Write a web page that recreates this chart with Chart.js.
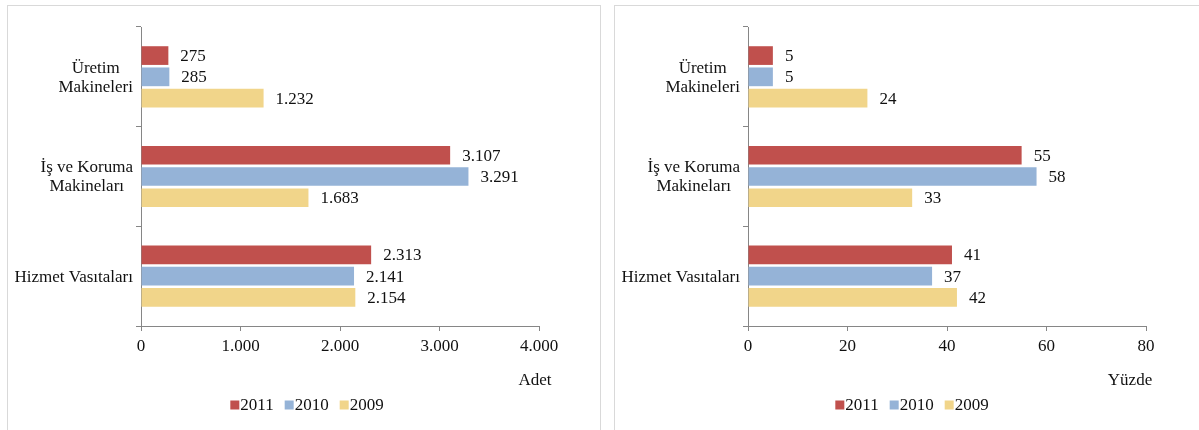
<!DOCTYPE html>
<html><head><meta charset="utf-8">
<script src="https://cdn.jsdelivr.net/npm/chart.js@4.4.0/dist/chart.umd.min.js"></script>
<style>
html,body{margin:0;padding:0;background:#fff;width:1199px;height:430px;overflow:hidden;position:relative;}
.panel{position:absolute;border:1px solid #d9d9d9;box-sizing:border-box;}
#p1{left:7px;top:5px;width:594px;height:440px;}
#p2{left:614px;top:5px;width:600px;height:440px;}
canvas{position:absolute;top:0;}
#c1{left:0;}
#c2{left:600px;}
</style></head>
<body>
<div class="panel" id="p1"></div>
<div class="panel" id="p2"></div>
<canvas id="c1" width="600" height="430"></canvas>
<canvas id="c2" width="599" height="430"></canvas>
<script>
// ---- data ----
const categories = [["Üretim", "Makineleri"], ["İş ve Koruma", "Makineları"], ["Hizmet Vasıtaları"]];
const seriesLabels = ["2011", "2010", "2009"];
const adet2011 = [275, 3107, 2313];
const adet2010 = [285, 3291, 2141];
const adet2009 = [1232, 1683, 2154];
const yuzde2011 = [5, 55, 41];
const yuzde2010 = [5, 58, 37];
const yuzde2009 = [24, 33, 42];
const adetTicks = [0, 1000, 2000, 3000, 4000];
const yuzdeTicks = [0, 20, 40, 60, 80];
const unitLeft = "Adet";
const unitRight = "Yüzde";

const colors = ["#C0504D", "#95B3D7", "#F1D58A"];
const FONT = '"Liberation Serif", "Times New Roman", serif';
const FS = 17;
const AXIS = "#868686";

function fmt(v) { return String(v).replace(/\B(?=(\d{3})+(?!\d))/g, "."); }

const decor = {
  id: "decor",
  afterDraw(chart, args, o) {
    const ctx = chart.ctx;
    ctx.save();
    ctx.font = FS + "px " + FONT;
    ctx.fillStyle = "#111";
    // value labels
    ctx.textAlign = "left"; ctx.textBaseline = "middle";
    chart.data.datasets.forEach((ds, di) => {
      chart.getDatasetMeta(di).data.forEach((bar, i) => {
        ctx.fillText(fmt(ds.data[i]), bar.x + o.labelGap, bar.y + 1);
      });
    });
    // category labels
    const ys = chart.scales.y;
    ctx.textAlign = "center";
    chart.data.labels.forEach((lab, i) => {
      const lines = Array.isArray(lab) ? lab : [lab];
      const w = Math.max(...lines.map(l => ctx.measureText(l).width));
      const cx = ys.right - o.catGap - w / 2;
      const cy = ys.getPixelForValue(i) + 1;
      lines.forEach((l, k) => ctx.fillText(l, cx, cy + (k - (lines.length - 1) / 2) * 19));
    });
    // unit
    ctx.fillText(o.unit, o.unitX, o.unitY);
    // legend
    ctx.textAlign = "left";
    const items = chart.data.datasets.map(d => ({ text: d.label, color: d.backgroundColor }));
    const box = 9, gt = 1, gi = 11;
    const ws = items.map(it => box + gt + ctx.measureText(it.text).width);
    const total = ws.reduce((a, b) => a + b, 0) + gi * (items.length - 1);
    let x = o.legendX - total / 2;
    items.forEach((it, k) => {
      ctx.fillStyle = it.color;
      ctx.fillRect(x, o.legendY - 4.5, box, box);
      ctx.fillStyle = "#111";
      ctx.fillText(it.text, x + box + gt, o.legendY + 1);
      x += ws[k] + gi;
    });
    ctx.restore();
  }
};

function makeChart(id, d2011, d2010, d2009, ticks, yWidth, padRight, unit, unitX, legendX) {
  const series = [d2011, d2010, d2009];
  return new Chart(document.getElementById(id), {
    type: "bar",
    data: {
      labels: categories,
      datasets: series.map((s, i) => ({
        label: seriesLabels[i], data: s, backgroundColor: colors[i],
        barPercentage: 0.88, categoryPercentage: 0.64
      }))
    },
    options: {
      indexAxis: "y",
      responsive: false,
      animation: false,
      layout: { padding: { top: 27, right: padRight, bottom: 0, left: 0 } },
      plugins: {
        legend: { display: false },
        tooltip: { enabled: false },
        decor: { labelGap: 12, catGap: 8, unit: unit, unitX: unitX, unitY: 381, legendX: legendX, legendY: 405 }
      },
      scales: {
        y: {
          ticks: { display: false },
          grid: { drawOnChartArea: false, drawTicks: true, tickLength: 5, color: AXIS },
          border: { color: AXIS, width: 1 },
          afterFit: s => { s.width = yWidth; }
        },
        x: {
          min: ticks[0], max: ticks[ticks.length - 1],
          afterBuildTicks: s => { s.ticks = ticks.map(v => ({ value: v })); },
          ticks: { font: { family: FONT, size: FS }, color: "#111", padding: 5, callback: v => fmt(v), maxRotation: 0 },
          grid: { drawOnChartArea: false, drawTicks: true, tickLength: 5, color: AXIS },
          border: { color: AXIS, width: 1 },
          afterFit: s => { s.height = 104; }
        }
      }
    },
    plugins: [decor]
  });
}

makeChart("c1", adet2011, adet2010, adet2009, adetTicks, 141, 61, unitLeft, 535, 307);
makeChart("c2", yuzde2011, yuzde2010, yuzde2009, yuzdeTicks, 148, 53, unitRight, 530, 312);
</script>
</body></html>
